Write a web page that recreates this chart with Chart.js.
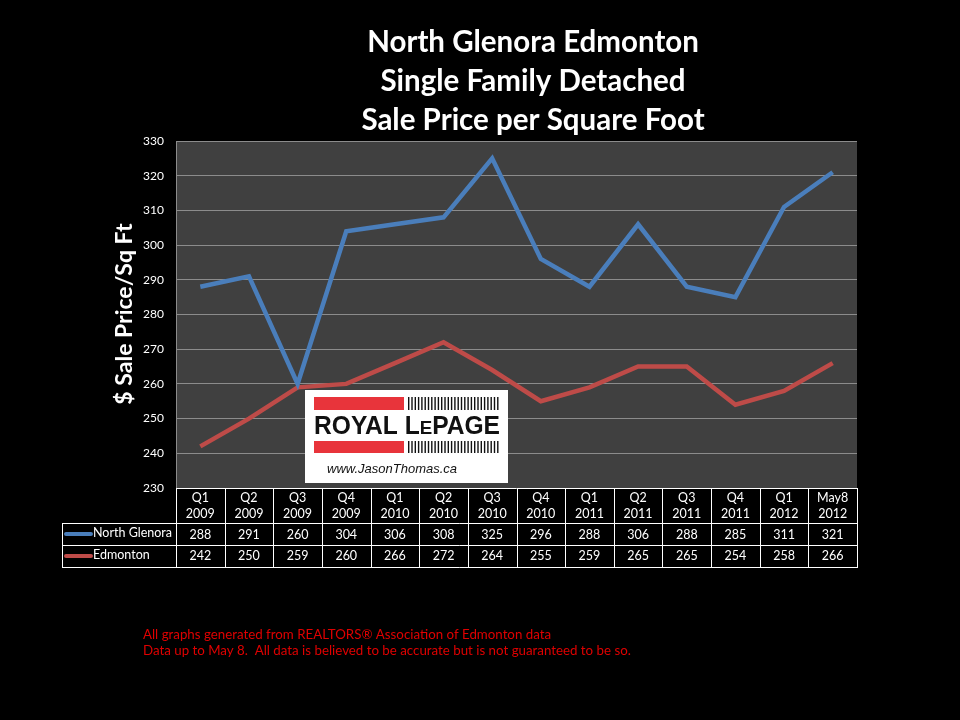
<!DOCTYPE html>
<html>
<head>
<meta charset="utf-8">
<script src="https://cdn.jsdelivr.net/npm/chart.js@4"></script>
<style>
html,body{margin:0;padding:0;background:#000;}
canvas{display:block;}
</style>
</head>
<body>
<canvas id="c" width="960" height="720"></canvas>
<script>
const quarters = ["Q1","Q2","Q3","Q4","Q1","Q2","Q3","Q4","Q1","Q2","Q3","Q4","Q1","May8"];
const years = ["2009","2009","2009","2009","2010","2010","2010","2010","2011","2011","2011","2011","2012","2012"];
const northGlenora = [288,291,260,304,306,308,325,296,288,306,288,285,311,321];
const edmonton = [242,250,259,260,266,272,264,255,259,265,265,254,258,266];
const seriesNames = ["North Glenora","Edmonton"];
const titleLines = ["North Glenora Edmonton","Single Family Detached","Sale Price per Square Foot"];
const yTitle = "$ Sale Price/Sq Ft";
const footer = ["All graphs generated from REALTORS\u00AE Association of Edmonton data",
                "Data up to May 8.  All data is believed to be accurate but is not guaranteed to be so."];

const labels = quarters.map((q,i)=>q+" "+years[i]);
const FONT = "Lato, 'Open Sans', sans-serif";

const decor = {
  id:'decor',
  beforeDraw(chart){
    const {ctx, chartArea:a} = chart;
    ctx.save();
    ctx.fillStyle = '#000';
    ctx.fillRect(0,0,chart.width,chart.height);
    ctx.fillStyle = '#404040';
    ctx.fillRect(a.left,a.top,a.right-a.left,a.bottom-a.top);
    ctx.restore();
  },
  afterDraw(chart){
    const {ctx, chartArea:a} = chart;
    const xs = chart.scales.x;
    ctx.save();
    // title
    ctx.fillStyle = '#fff';
    ctx.textAlign = 'center';
    ctx.textBaseline = 'middle';
    ctx.font = "bold 29.5px " + FONT;
    titleLines.forEach((t,i)=>ctx.fillText(t, 533, 42 + i*39));
    // y title
    ctx.save();
    ctx.translate(125, 314);
    ctx.rotate(-Math.PI/2);
    ctx.font = "bold 23px " + FONT;
    ctx.fillText(yTitle, 0, 0);
    ctx.restore();

    // logo
    const lx=305, ly=390, lw=203, lh=93;
    ctx.fillStyle='#fff';
    ctx.fillRect(lx,ly,lw,lh);
    ctx.fillStyle='#e8343b';
    ctx.fillRect(314,397,90,13);
    ctx.fillRect(314,441,90,12);
    ctx.fillStyle='#111';
    for(let bx=408; bx<500; bx+=3.3){
      ctx.fillRect(bx,397,1.4,13);
      ctx.fillRect(bx,441,1.4,12);
    }
    ctx.textAlign='left';
    ctx.textBaseline='alphabetic';
    ctx.fillStyle='#111';
    const big = "bold 25px 'Liberation Sans', Arial, sans-serif";
    const small = "bold 19px 'Liberation Sans', Arial, sans-serif";
    ctx.font = big;
    let w1 = ctx.measureText("ROYAL L").width, w3 = ctx.measureText("PAGE").width;
    ctx.font = small;
    let w2 = ctx.measureText("E").width;
    const sc = 186 / (w1+w2+w3);
    ctx.save();
    ctx.translate(314, 434);
    ctx.scale(sc, 1);
    ctx.font = big; ctx.fillText("ROYAL L", 0, 0);
    ctx.font = small; ctx.fillText("E", w1, 0);
    ctx.font = big; ctx.fillText("PAGE", w1+w2, 0);
    ctx.restore();
    ctx.font = "italic 13px 'Liberation Sans', Arial, sans-serif";
    ctx.fillText("www.JasonThomas.ca", 327, 473);

    // data table
    const n = labels.length;
    const colW = (a.right - a.left)/n;
    const hTop = a.bottom, hBot = 523, r1Bot = 545, r2Bot = 567, legL = 62;
    ctx.fillStyle='#000';
    ctx.fillRect(a.left, hTop, a.right-a.left, hBot-hTop);
    ctx.strokeStyle='#fff';
    ctx.lineWidth=1;
    ctx.beginPath();
    ctx.moveTo(a.left, hTop+0.5); ctx.lineTo(a.right, hTop+0.5);
    ctx.moveTo(legL+0.5, hBot+0.5); ctx.lineTo(a.right, hBot+0.5);
    ctx.moveTo(legL+0.5, r1Bot+0.5); ctx.lineTo(a.right, r1Bot+0.5);
    ctx.moveTo(legL+0.5, r2Bot+0.5); ctx.lineTo(a.right, r2Bot+0.5);
    ctx.moveTo(legL+0.5, hBot); ctx.lineTo(legL+0.5, r2Bot+1);
    for(let i=0;i<=n;i++){
      const x = Math.round(a.left + i*colW)+0.5;
      ctx.moveTo(x, hTop); ctx.lineTo(x, r2Bot+1);
    }
    ctx.stroke();
    ctx.fillStyle='#fff';
    ctx.textAlign='center';
    ctx.textBaseline='middle';
    ctx.font = "12.5px " + FONT;
    for(let i=0;i<n;i++){
      const cx = xs.getPixelForValue(i);
      ctx.fillText(quarters[i], cx, 498);
      ctx.fillText(years[i], cx, 514);
      ctx.fillText(String(northGlenora[i]), cx, 535);
      ctx.fillText(String(edmonton[i]), cx, 556);
    }
    // legend
    const ds = chart.data.datasets;
    ctx.textAlign='left';
    [534,556].forEach((yy,k)=>{
      ctx.strokeStyle = ds[k].borderColor;
      ctx.lineWidth = 4;
      ctx.lineCap='round';
      ctx.beginPath(); ctx.moveTo(66,yy); ctx.lineTo(91,yy); ctx.stroke();
      ctx.fillStyle='#fff';
      ctx.fillText(seriesNames[k], 93, yy-1);
    });

    // footer
    ctx.fillStyle='#e00000';
    ctx.font = "13.3px " + FONT;
    ctx.textAlign='left';
    footer.forEach((t,i)=>ctx.fillText(t, 143, 635 + i*16));
    ctx.restore();
  }
};

new Chart(document.getElementById('c'), {
  type:'line',
  data:{
    labels: labels,
    datasets:[
      {label:seriesNames[0], data:northGlenora, borderColor:'#4a7ebb', borderWidth:4.5, pointRadius:0, tension:0, fill:false},
      {label:seriesNames[1], data:edmonton, borderColor:'#be4b48', borderWidth:4.5, pointRadius:0, tension:0, fill:false}
    ]
  },
  options:{
    responsive:false,
    animation:false,
    layout:{padding:{left:0, top:141, right:103, bottom:232}},
    plugins:{legend:{display:false}, tooltip:{enabled:false}, title:{display:false}},
    scales:{
      x:{type:'category', offset:true, display:false},
      y:{
        min:230, max:330,
        ticks:{stepSize:10, color:'#fff', font:{family:FONT, size:12}, padding:12},
        grid:{color:'#8c8c8c', lineWidth:1, drawTicks:false},
        border:{color:'#8c8c8c'},
        afterFit(s){ s.width = 176; }
      }
    }
  },
  plugins:[decor]
});
</script>
</body>
</html>
